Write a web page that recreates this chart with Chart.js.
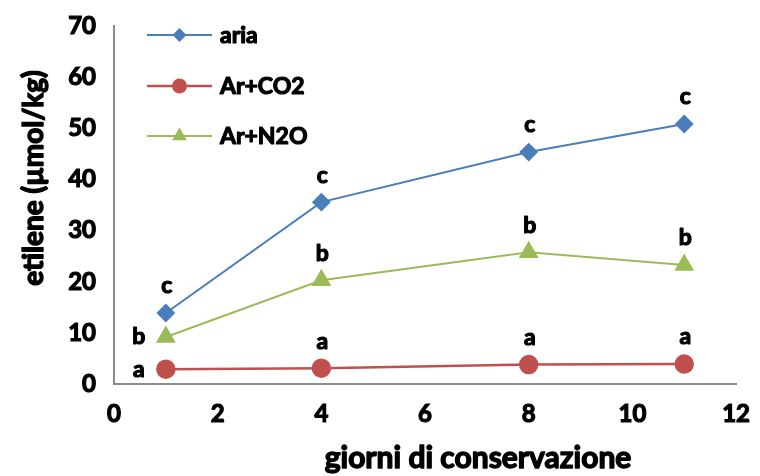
<!DOCTYPE html>
<html>
<head>
<meta charset="utf-8">
<script src="https://cdn.jsdelivr.net/npm/chart.js@4/dist/chart.umd.min.js"></script>
<style>
  html, body { margin: 0; padding: 0; background: #fff; }
  #wrap { width: 760px; height: 476px; position: relative; }
</style>
</head>
<body>
<div id="wrap"><canvas id="c" width="760" height="476"></canvas></div>
<script>
// Storage days
const days = [1, 4, 8, 11];

// Ethylene (µmol/kg) per atmosphere
const aria  = [13.9, 35.6, 45.4, 50.9];
const arCO2 = [2.9, 3.1, 3.8, 3.9];
const arN2O = [9.2, 20.3, 25.8, 23.3];

// Significance letters
const lettersAria  = ['c', 'c', 'c', 'c'];
const lettersCO2   = ['a', 'a', 'a', 'a'];
const lettersN2O   = ['b', 'b', 'b', 'b'];

const seriesNames = ['aria', 'Ar+CO2', 'Ar+N2O'];
const xTicks = [0, 2, 4, 6, 8, 10, 12];
const yTicks = [0, 10, 20, 30, 40, 50, 60, 70];
const xTitle = 'giorni di conservazione';
const yTitle = 'etilene (µmol/kg)';

const FONT = 'Lato, "Open Sans", sans-serif';

const pts = (ys) => days.map((d, i) => ({ x: d, y: ys[i] }));

const datasets = [
  { label: seriesNames[0], data: pts(aria), borderColor: '#4a7ebb', backgroundColor: '#4a7ebb',
    pointStyle: 'rectRot', pointRadius: 8, borderWidth: 2, letters: lettersAria,
    letterPos: ['above', 'above', 'above', 'above'] },
  { label: seriesNames[1], data: pts(arCO2), borderColor: '#c0504d', backgroundColor: '#c0504d',
    pointStyle: 'circle', pointRadius: 8.5, borderWidth: 2.5, letters: lettersCO2,
    letterPos: ['left', 'above', 'above', 'above'] },
  { label: seriesNames[2], data: pts(arN2O), borderColor: '#9bbb59', backgroundColor: '#9bbb59',
    pointStyle: 'triangle', pointRadius: 9.5, borderWidth: 2, letters: lettersN2O,
    letterPos: ['left', 'above', 'above', 'above'] }
];

// heavy text: fill plus a thin outline of the same colour
function heavyText(ctx, txt, x, y, w) {
  ctx.lineWidth = w;
  ctx.strokeStyle = ctx.fillStyle;
  ctx.lineJoin = 'round';
  ctx.strokeText(txt, x, y);
  ctx.fillText(txt, x, y);
}

// Letters next to the markers, titles, and the in-plot legend
const annotate = {
  id: 'annotate',
  afterDatasetsDraw(chart) {
    const ctx = chart.ctx;
    const xs = chart.scales.x, ys = chart.scales.y;
    ctx.save();
    ctx.fillStyle = '#000';
    ctx.font = 'bold 23px ' + FONT;
    ctx.textBaseline = 'middle';
    ctx.textAlign = 'center';
    chart.data.datasets.forEach((ds) => {
      ds.data.forEach((p, i) => {
        const px = xs.getPixelForValue(p.x);
        const py = ys.getPixelForValue(p.y);
        if (ds.letterPos[i] === 'left') {
          heavyText(ctx, ds.letters[i], px - 27, py, 1.2);
        } else {
          heavyText(ctx, ds.letters[i], px + 1, py - 27, 1.2);
        }
      });
    });

    // legend
    const lx0 = 147, lx1 = 212, rows = [35, 86, 136];
    ctx.font = 'bold 23px ' + FONT;
    ctx.textAlign = 'left';
    chart.data.datasets.forEach((ds, i) => {
      const y = rows[i];
      ctx.strokeStyle = ds.borderColor;
      ctx.lineWidth = ds.borderWidth;
      ctx.beginPath(); ctx.moveTo(lx0, y); ctx.lineTo(lx1, y); ctx.stroke();
      ctx.fillStyle = ds.backgroundColor;
      Chart.helpers.drawPoint(ctx, { pointStyle: ds.pointStyle, radius: ds.pointRadius - 1, rotation: 0 },
        (lx0 + lx1) / 2, y);
      ctx.fillStyle = '#000';
      heavyText(ctx, ds.label, 220, y + 1, 1.2);
    });

    // axis titles
    ctx.fillStyle = '#000';
    ctx.font = 'bold 30px ' + FONT;
    ctx.textAlign = 'center';
    heavyText(ctx, xTitle, 478, 458, 1.4);
    ctx.save();
    ctx.translate(34, 178);
    ctx.rotate(-Math.PI / 2);
    ctx.font = 'bold 28px ' + FONT;
    heavyText(ctx, yTitle, 0, 0, 1.4);
    ctx.restore();
    ctx.restore();
  }
};

new Chart(document.getElementById('c'), {
  type: 'line',
  data: { datasets },
  options: {
    responsive: false,
    animation: false,
    layout: { padding: { top: 22, right: 14, left: 0, bottom: 0 } },
    plugins: { legend: { display: false }, tooltip: { enabled: false } },
    scales: {
      x: {
        type: 'linear', min: 0, max: 12,
        afterBuildTicks: (s) => { s.ticks = xTicks.map(v => ({ value: v })); },
        afterFit: (s) => { s.height = 92; },
        grid: { display: false, drawTicks: true, tickLength: 6, tickColor: '#8c8c8c' },
        border: { display: true, color: '#8c8c8c', width: 2 },
        ticks: { color: '#000', font: { family: FONT, weight: 'bold', size: 24 }, padding: 10, maxRotation: 0,
                 textStrokeColor: '#000', textStrokeWidth: 1.2 }
      },
      y: {
        type: 'linear', min: 0, max: 70,
        afterBuildTicks: (s) => { s.ticks = yTicks.map(v => ({ value: v })); },
        afterFit: (s) => { s.width = 114; },
        grid: { display: false, drawTicks: true, tickLength: 6, tickColor: '#8c8c8c' },
        border: { display: true, color: '#8c8c8c', width: 2 },
        ticks: { color: '#000', font: { family: FONT, weight: 'bold', size: 24 }, padding: 12,
                 textStrokeColor: '#000', textStrokeWidth: 1.2 }
      }
    }
  },
  plugins: [annotate]
});
</script>
</body>
</html>
